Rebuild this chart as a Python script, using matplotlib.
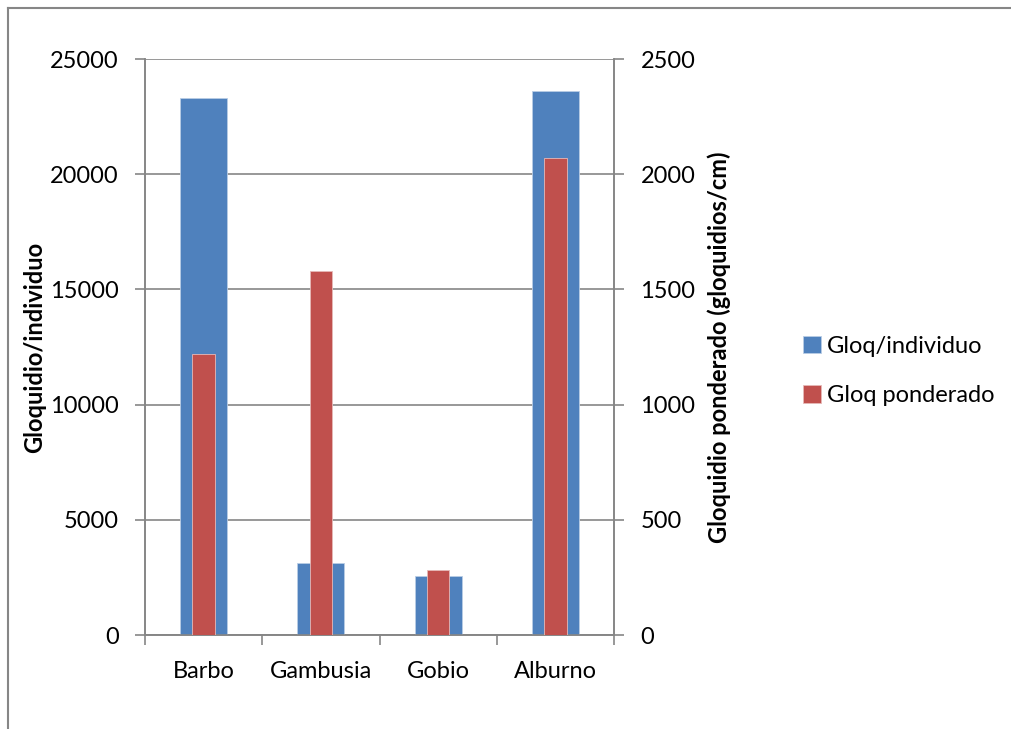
import matplotlib
matplotlib.use("Agg")
import matplotlib.pyplot as plt
from matplotlib.lines import Line2D
import numpy as np

plt.rcParams['font.family'] = ['Lato', 'DejaVu Sans']

especies = ["Barbo", "Gambusia", "Gobio", "Alburno"]
gloq_individuo = [23300, 3120, 2560, 23600]     # eje izquierdo
gloq_ponderado = [1220, 1578, 282, 2072]         # eje derecho (gloquidios/cm)

azul = '#4F81BD'
rojo = '#C0504D'
gris = '#868686'
fs = 17

fig = plt.figure(figsize=(10.12, 7.29), dpi=100)
ax1 = fig.add_axes([145/1012, 1-635/729, (614-145)/1012, (635-59)/729])
ax2 = ax1.twinx()

x = np.arange(len(especies))
ax1.bar(x, gloq_individuo, width=0.40, color=azul, edgecolor='#b9cde5', linewidth=0.6,
        label='Gloq/individuo', zorder=3)
ax2.bar(x, gloq_ponderado, width=0.19, color=rojo, edgecolor='#e6b9b8', linewidth=0.6,
        label='Gloq ponderado', zorder=3)

ax1.set_xlim(-0.5, 3.5)
ax1.set_ylim(0, 25000)
ax2.set_ylim(0, 2500)
ax1.set_yticks(range(0, 25001, 5000))
ax2.set_yticks(range(0, 2501, 500))
ax1.yaxis.grid(True, color=gris, linewidth=1.2, zorder=0)
ax1.set_axisbelow(True)

# ticks del eje x entre categorias
ax1.set_xticks(np.arange(-0.5, 4, 1))
ax1.set_xticklabels([])
ax1.set_xticks(x, minor=True)
ax1.set_xticklabels(especies, minor=True)
ax1.tick_params(axis='x', which='minor', length=0, pad=19, labelsize=fs)
ax1.tick_params(axis='x', which='major', length=7, width=1.2, color=gris, direction='out')
ax1.tick_params(axis='y', length=7, width=1.2, color=gris, labelsize=fs, pad=12)
ax2.tick_params(axis='y', length=7, width=1.2, color=gris, labelsize=fs, pad=12)

for ax in (ax1, ax2):
    for s in ax.spines.values():
        s.set_color(gris)
        s.set_linewidth(1.2)
ax1.spines['top'].set_visible(False)
ax2.spines['top'].set_visible(False)

ax1.set_ylabel("Gloquidio/individuo", fontsize=fs, fontweight='bold')
ax1.yaxis.set_label_coords(-0.21, 0.5)
ax2.set_ylabel("Gloquidio ponderado (gloquidios/cm)", fontsize=fs, fontweight='bold',
               rotation=90)
ax2.yaxis.set_label_coords(1.20, 0.5)

h1, l1 = ax1.get_legend_handles_labels()
h2, l2 = ax2.get_legend_handles_labels()
fig.legend(h1 + h2, l1 + l2, loc='center left', bbox_to_anchor=(782/1012, 1-371/729),
           frameon=False, fontsize=fs, handlelength=0.75, handleheight=0.75,
           handletextpad=0.25, labelspacing=1.2)

# marco del grafico
fig.add_artist(Line2D([8/1012, 1.0], [1-8/729, 1-8/729], color=gris, linewidth=1.5))
fig.add_artist(Line2D([8/1012, 8/1012], [0, 1-8/729], color=gris, linewidth=1.5))

fig.savefig("out.png", dpi=100)
